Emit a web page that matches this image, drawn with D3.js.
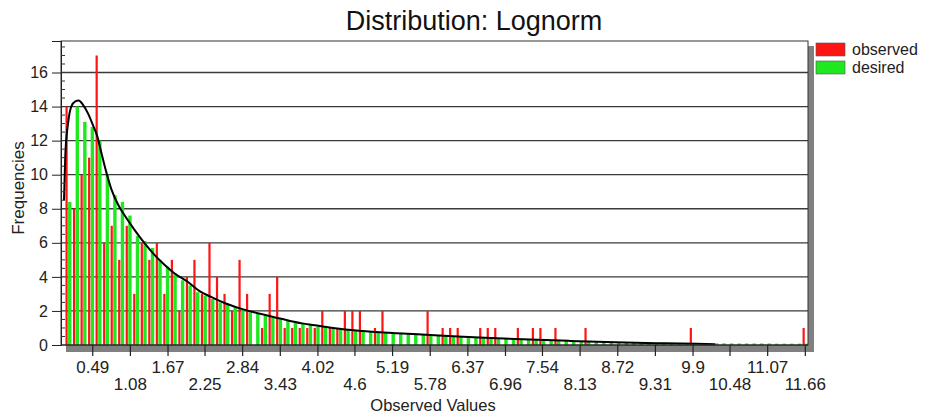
<!DOCTYPE html>
<html><head><meta charset="utf-8">
<script src="https://cdn.jsdelivr.net/npm/d3@7"></script>
<style>
html,body{margin:0;padding:0;background:#fff;}
svg{display:block;font-family:"Liberation Sans",Arial,sans-serif;}
</style></head>
<body><svg id="c" width="927" height="416"></svg>
<script>
// ---- data ----
const title = "Distribution: Lognorm";
const xLabel = "Observed Values";
const yLabel = "Frequencies";
const seriesNames = ["observed", "desired"];
const binStart = 0.086;      // lower value of the first bin
const binWidth = 0.1179;     // width of each bin
const observed = [14,8,10,11,17,6,7,5,7,3, 6,5,6,3,5,2,4,5,3,6,
  4,3,2,5,3,0,1,3,4,1, 1,1,1,1,2,1,1,2,2,2,
  0,1,2,0,0,0,0,0,2,0, 1,1,1,0,0,1,1,1,0,0,
  1,0,1,1,0,1,0,0,0,1, 0,0,0,0,0,0,0,0,0,0,
  0,0,0,1,0,0,0,0,0,0, 0,0,0,0,0,0,0,0,1];
const desired = [8.4,14.0,13.1,12.8,12.0,10.0,8.8,8.4,7.6,6.4,
  6.1,5.7,5.0,4.6,4.2,3.8,3.5,3.1,2.9,2.7,
  2.5,2.35,2.2,2.05,1.92,1.82,1.72,1.62,1.52,1.42,
  1.33,1.25,1.17,1.10,1.04,0.98,0.94,0.89,0.85,0.80,
  0.77,0.74,0.71,0.68,0.66,0.64,0.62,0.60,0.57,0.55,
  0.53,0.51,0.49,0.47,0.45,0.43,0.41,0.39,0.37,0.35,
  0.33,0.32,0.30,0.29,0.27,0.26,0.25,0.23,0.22,0.21,
  0.20,0.19,0.18,0.17,0.16,0.15,0.14,0.13,0.12,0.12,
  0.11,0.11,0.11,0.10,0.10,0.10,0.10,0.10,0.09,0.09,
  0.09,0.09,0.09,0.09,0.08,0.08,0.08,0.08,0.08];
const curveX = [0.047,0.067,0.110,0.161,0.224,0.277,0.345,0.423,0.502,0.569,0.632,0.710,0.789,0.894,0.999,
  1.155,1.312,1.469,1.626,1.782,1.991,2.179,2.336,2.571,2.806,2.994,3.433,3.778,4.060,4.295,
  4.734,5.267,5.785,6.302,6.835,7.352,7.979,8.685,9.469,10.252];
const curveY = [8.5,11.1,13.0,14.0,14.3,14.35,14.1,13.6,12.9,12.25,11.3,10.15,9.15,8.25,7.6,
  6.75,5.97,5.28,4.7,4.2,3.7,3.15,2.85,2.45,2.15,1.95,1.56,1.27,1.12,0.98,
  0.82,0.69,0.59,0.49,0.40,0.32,0.24,0.16,0.10,0.05];
const xTicks = [0.49,1.08,1.67,2.25,2.84,3.43,4.02,4.6,5.19,5.78,6.37,6.96,7.54,8.13,8.72,9.31,9.9,10.48,11.07,11.66];
const yTicks = [0,2,4,6,8,10,12,14,16];
const xMax = 11.71, yMax = 17.85;

// ---- layout ----
const L = 61, R = 808, T = 41, B = 345;
const svg = d3.select("#c");
const x = d3.scaleLinear().domain([0, xMax]).range([L, R]);
const y = d3.scaleLinear().domain([0, yMax]).range([B, T]);
const colObs = "#ff1414", colDes = "#1ee81e";

// shadow
svg.append("rect").attr("x", R).attr("y", T + 5).attr("width", 6).attr("height", B - T + 2).attr("fill", "#808080");
svg.append("rect").attr("x", L + 5).attr("y", B).attr("width", R - L + 1).attr("height", 7).attr("fill", "#808080");
svg.append("rect").attr("x", L).attr("y", T).attr("width", R - L).attr("height", B - T).attr("fill", "#fff");

// grid lines
svg.append("g").selectAll("line").data(yTicks.filter(d => d > 0)).join("line")
  .attr("x1", L).attr("x2", R).attr("y1", d => y(d)).attr("y2", d => y(d))
  .attr("stroke", "#3a3a3a").attr("stroke-width", 1.3);

// bars
const bins = observed.map((o, i) => ({i, lo: binStart + i * binWidth, o, d: desired[i]}));
svg.append("g").selectAll("rect").data(bins).join("rect")
  .attr("x", b => x(b.lo) + 1.6).attr("width", 3.4)
  .attr("y", b => y(b.d)).attr("height", b => B - y(b.d))
  .attr("fill", colDes);
svg.append("g").selectAll("rect").data(bins.filter(b => b.o > 0)).join("rect")
  .attr("x", b => x(b.lo) - 1).attr("width", 2.2)
  .attr("y", b => y(b.o)).attr("height", b => B - y(b.o))
  .attr("fill", colObs);

// curve
const pts = curveX.map((v, i) => [v, curveY[i]]);
svg.append("path").datum(pts)
  .attr("d", d3.line().x(d => x(d[0])).y(d => y(d[1])).curve(d3.curveMonotoneX))
  .attr("fill", "none").attr("stroke", "#000").attr("stroke-width", 2);

// frame
svg.append("rect").attr("x", L).attr("y", T).attr("width", R - L).attr("height", B - T)
  .attr("fill", "none").attr("stroke", "#333").attr("stroke-width", 1);

// y axis
const yAxis = d3.axisLeft(y).tickValues(yTicks).tickSize(9).tickPadding(4).tickFormat(d3.format("d"));
const gy = svg.append("g").attr("transform", `translate(${L},0)`).call(yAxis);
gy.select(".domain").attr("stroke", "#222");
gy.selectAll(".tick line").attr("stroke", "#222");
gy.selectAll("text").attr("font-size", 16).attr("fill", "#222").attr("font-family", "Liberation Sans, Arial, sans-serif");
// minor ticks inside
const minor = d3.range(0.5, yMax, 0.5).filter(v => v % 2 !== 0);
svg.append("g").selectAll("line").data(minor).join("line")
  .attr("x1", L).attr("x2", L + 4).attr("y1", d => y(d)).attr("y2", d => y(d))
  .attr("stroke", "#333").attr("stroke-width", 1);

// x axis
const xAxis = d3.axisBottom(x).tickValues(xTicks).tickSize(11).tickPadding(4).tickFormat(d => String(d));
const gx = svg.append("g").attr("transform", `translate(0,${B})`).call(xAxis);
gx.select(".domain").remove();
gx.selectAll(".tick line").attr("stroke", "#222").attr("stroke-width", 1.2);
gx.selectAll("text").attr("font-size", 17).attr("fill", "#222")
  .attr("font-family", "Liberation Sans, Arial, sans-serif")
  .attr("dy", (d, i) => i % 2 === 0 ? "0.76em" : "1.76em");
svg.append("line").attr("x1", L).attr("x2", R).attr("y1", B).attr("y2", B).attr("stroke", "#222").attr("stroke-width", 1.2);

// titles
svg.append("text").attr("x", 474).attr("y", 30).attr("text-anchor", "middle")
  .attr("font-size", 27).attr("fill", "#111").text(title);
svg.append("text").attr("x", 433).attr("y", 411).attr("text-anchor", "middle")
  .attr("font-size", 16.5).attr("fill", "#222").text(xLabel);
svg.append("text").attr("transform", "translate(24,188) rotate(-90)").attr("text-anchor", "middle")
  .attr("font-size", 17).attr("fill", "#222").text(yLabel);

// legend
const leg = svg.append("g");
[colObs, colDes].forEach((c, i) => {
  leg.append("rect").attr("x", 816).attr("y", 43 + i * 18).attr("width", 29).attr("height", 13)
    .attr("fill", c).attr("stroke", "#555").attr("stroke-width", 0.6);
  leg.append("text").attr("x", 852).attr("y", 55 + i * 18).attr("font-size", 16).attr("fill", "#222").text(seriesNames[i]);
});
</script></body></html>
